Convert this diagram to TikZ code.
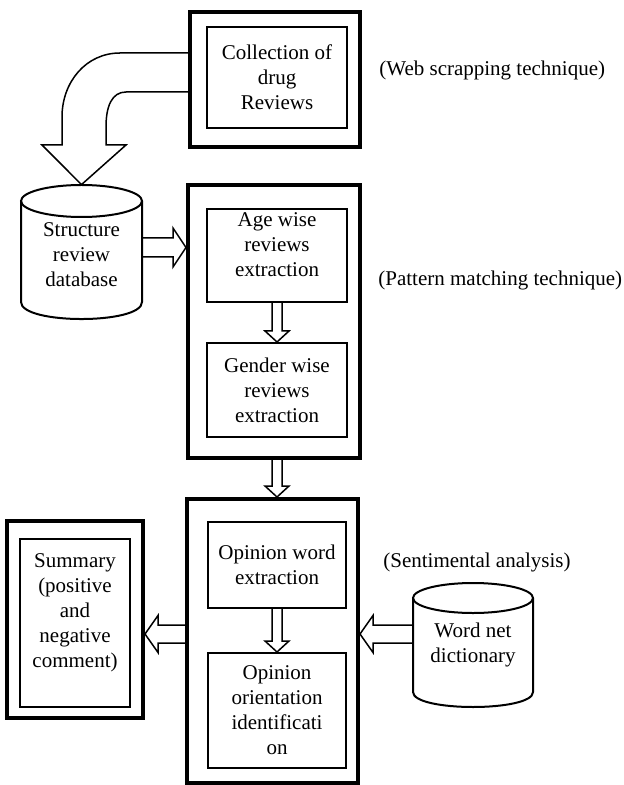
\documentclass[tikz,border=0pt]{standalone}
\usepackage{fontspec}
\setmainfont{Liberation Serif}
\usepackage{tikz}
\usetikzlibrary{calc}
\newcommand{\shifttext}[2]{\raisebox{#1}[\height][\depth]{\begin{tabular}{@{}c@{}}#2\end{tabular}}}

\begin{document}
\begin{tikzpicture}[x=0.5pt,y=-0.5pt,
  font=\fontsize{10.5}{12.5}\selectfont,
  outbox/.style={draw,line width=2pt},
  inbox/.style={draw,line width=1pt,align=center,inner sep=0pt},
  blk/.style={draw,line width=0.75pt,line join=miter},
  cyl/.style={draw,line width=1pt},
  note/.style={anchor=west,inner sep=0pt}]
  \useasboundingbox (0,0) rectangle (623,785);
  % outer frames
  \node[outbox,minimum width=85pt,minimum height=67.5pt] (top) at (275,79.5) {};
  \node[outbox,minimum width=86pt,minimum height=136.5pt] (mid) at (274,321.5) {};
  \node[outbox,minimum width=85.5pt,minimum height=142pt] (bot) at (272.5,641) {};
  \node[outbox,minimum width=68pt,minimum height=98.5pt] (sumo) at (75,619.5) {};
  % steps
  \node[inbox,minimum width=70pt,minimum height=50.5pt] (col) at (277,77.5) {Collection of\\drug\\Reviews};
  \node[inbox,minimum width=70pt,minimum height=46.5pt] (age) at (277,255.5) {\shifttext{4.25pt}{Age wise\\reviews\\extraction}};
  \node[inbox,minimum width=70pt,minimum height=47pt] (gen) at (277,390) {Gender wise\\reviews\\extraction};
  \node[inbox,minimum width=69pt,minimum height=43pt] (op1) at (277,565) {Opinion word\\extraction};
  \node[inbox,minimum width=69pt,minimum height=57.5pt] (op2) at (277,710.5) {Opinion\\orientation\\identificati\\on};
  \node[inbox,minimum width=55pt,minimum height=84pt] (sum) at (75,623) {\shifttext{5.5pt}{Summary\\(positive\\and\\negative\\comment)}};
  % databases
  \node[inner sep=0pt,minimum width=60.5pt,minimum height=67pt,align=center] (sdb) at (81.5,252) {\shifttext{-2.5pt}{Structure\\review\\database}};
  \draw[cyl] (81.5,201) ellipse [x radius=30.25pt, y radius=8pt];
  \draw[cyl] (21,201) -- (21,302) .. controls (21,324.7) and (142,324.7) .. (142,302) -- (142,201);
  \node[inner sep=0pt,minimum width=60pt,minimum height=62pt,align=center] (wnd) at (473,645) {Word net\\dictionary};
  \draw[cyl] (473,598) ellipse [x radius=30pt, y radius=7.5pt];
  \draw[cyl] (413,598) -- (413,692) .. controls (413,712) and (533,712) .. (533,692) -- (533,598);
  % techniques
  \node[note] (web) at (379,70) {(Web scrapping technique)};
  \node[note] (pat) at (378,280) {(Pattern matching technique)};
  \node[note] (sen) at (383,562) {(Sentimental analysis)};
  % block arrows
  \draw[blk] (top.west |- 0,53) -- (120,53) .. controls (86,53) and (62,82) .. (62,117) -- (62,145) -- (42,145) -- (sdb.north) -- (126,145) -- (106,145) -- (106,127) .. controls (106,106) and (112,92) .. (126,92) -- (top.west |- 0,92);
  \coordinate (s1) at ($(sdb.east)+(0,-4.5)$);
  \draw[blk] ($(s1)+(0,-9.5)$) -- ($(mid.west |- s1)+(-13,-9.5)$) -- ($(mid.west |- s1)+(-13,-19.5)$) -- (mid.west |- s1) -- ($(mid.west |- s1)+(-13,19.5)$) -- ($(mid.west |- s1)+(-13,9.5)$) -- ($(s1)+(0,9.5)$);
  \coordinate (ms) at (age.south |- mid.south);
  \coordinate (bn) at (age.south |- bot.north);
  \foreach \a/\b in {age.south/gen.north, ms/bn, op1.south/op2.north} {
    \draw[blk] ($(\a)+(-5,0)$) -- ($(\b)+(-5,-11)$) -- ($(\b)+(-12,-11)$) -- (\b) -- ($(\b)+(12,-11)$) -- ($(\b)+(5,-11)$) -- ($(\a)+(5,0)$);
  }
  \coordinate (mlv) at (0,634);
  \foreach \s/\t in {bot/sumo, wnd/bot} {
    \draw[blk] ($(\s.west |- mlv)+(0,-9)$) -- ($(\t.east |- mlv)+(13,-9)$) -- ($(\t.east |- mlv)+(13,-18.5)$) -- (\t.east |- mlv) -- ($(\t.east |- mlv)+(13,18.5)$) -- ($(\t.east |- mlv)+(13,9)$) -- ($(\s.west |- mlv)+(0,9)$);
  }
\end{tikzpicture}
\end{document}
